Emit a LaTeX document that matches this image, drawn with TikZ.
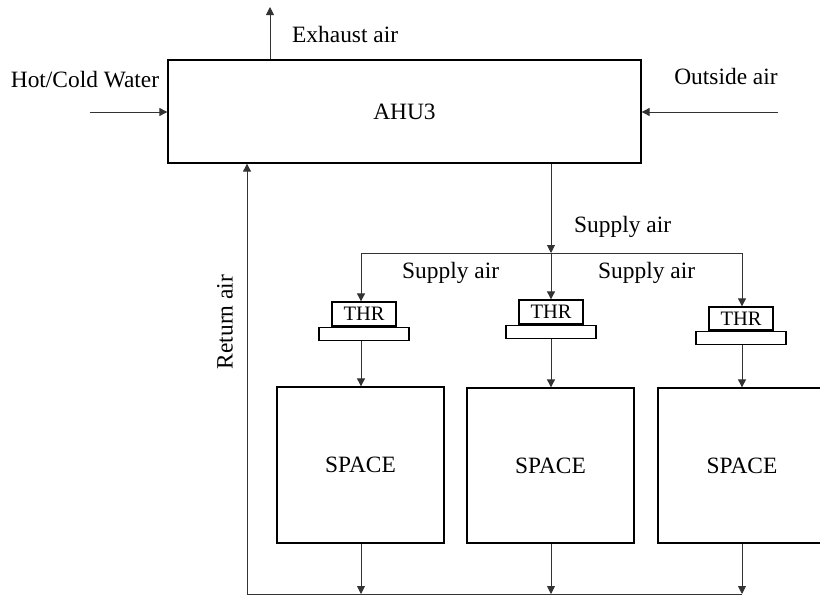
\documentclass[tikz,border=0pt]{standalone}
\usepackage{fontspec}
\setmainfont{Liberation Serif}
\usetikzlibrary{arrows.meta}
\begin{document}
\begin{tikzpicture}[x=1pt,y=-1pt,
  lbl/.style={font=\fontsize{23.4}{28}\selectfont, inner sep=0pt},
  boxst/.style={draw=black, line width=1.3pt, inner sep=0pt, font=\fontsize{23.4}{28}\selectfont},
  thrst/.style={boxst, minimum width=64pt, font=\fontsize{20.5}{24}\selectfont},
  basest/.style={boxst, minimum width=90pt, minimum height=13pt, anchor=north},
  conn/.style={draw=black!80, line width=0.9pt},
  arr/.style={conn, -{Triangle[length=8pt,width=8pt]}}]
\useasboundingbox (0,0) rectangle (820,597);
\clip (0,0) rectangle (820,597);
% main unit
\node[boxst, minimum width=473pt, minimum height=103pt] (ahu) at (404.5,111.5) {AHU3};
% labels
\node[lbl, anchor=west] (lexh) at (292,34) {Exhaust air};
\node[lbl] (lhw) at (85,80) {Hot/Cold Water};
\node[lbl] (loa) at (726,76) {Outside air};
\node[lbl, rotate=90] (lret) at (225,322) {Return air};
\node[lbl, anchor=west] (lsup) at (574,227) {Supply air};
\node[lbl, anchor=west] (lsup1) at (402,273) {Supply air};
\node[lbl, anchor=west] (lsup2) at (598,273) {Supply air};
% coordinates
\coordinate (exh) at (270,7);
\coordinate (hw) at (90,112);
\coordinate (oa) at (778,112);
\coordinate (ret) at (247,594);
\coordinate (sj) at (551,253);
\coordinate (sl) at (361,253);
\coordinate (sr) at (742,253);
\coordinate (b1) at (361,594);
\coordinate (b2) at (551,594);
\coordinate (b3) at (742,594);
% THR units
\node[thrst, minimum height=24pt] (thr1) at (364,314) {THR};
\node[basest] (base1) at (thr1.south) {};
\node[thrst, minimum height=24pt] (thr2) at (551,312) {THR};
\node[basest] (base2) at (thr2.south) {};
\node[thrst, minimum height=23pt] (thr3) at (741,318.5) {THR};
\node[basest] (base3) at (thr3.south) {};
% spaces
\node[boxst, minimum width=167pt, minimum height=156pt] (sp1) at (360.5,465) {SPACE};
\node[boxst, minimum width=167pt, minimum height=155pt] (sp2) at (550.5,465.5) {SPACE};
\node[boxst, minimum width=168pt, minimum height=155pt] (sp3) at (742,465.5) {SPACE};
% connectors
\draw[arr] (ahu.north -| exh) -- (exh);
\draw[arr] (hw) -- (ahu.west |- hw);
\draw[arr] (oa) -- (ahu.east |- oa);
\draw[arr] (ret) -- (ahu.south -| ret);
\draw[conn] (ret) -- (b3);
\draw[arr] (ahu.south -| sj) -- (sj);
\draw[conn] (sl) -- (sr);
\draw[arr] (sl) -- (sl |- thr1.north);
\draw[arr] (sj) -- (sj |- thr2.north);
\draw[arr] (sr) -- (sr |- thr3.north);
\draw[arr] (base1.south -| sl) -- (sp1.north -| sl);
\draw[arr] (base2.south -| sj) -- (sp2.north -| sj);
\draw[arr] (base3.south -| sr) -- (sp3.north -| sr);
\draw[arr] (sp1.south -| b1) -- (b1);
\draw[arr] (sp2.south -| b2) -- (b2);
\draw[arr] (sp3.south -| b3) -- (b3);
\end{tikzpicture}
\end{document}
